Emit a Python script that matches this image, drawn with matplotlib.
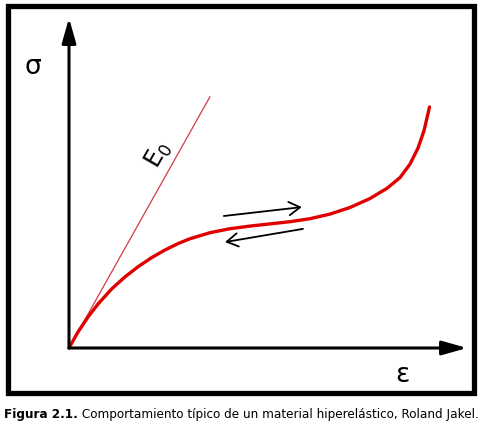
import matplotlib
matplotlib.use("Agg")
from matplotlib import pyplot as plt
from matplotlib.patches import Rectangle

# strain / stress values (arbitrary units, axes span 0..1)
curve_strain = [0.0, 0.0226, 0.0477, 0.0729, 0.1080, 0.1407, 0.1734, 0.2085, 0.2412,
                0.2739, 0.3040, 0.3543, 0.4045, 0.4548, 0.5050, 0.5553, 0.6055, 0.6558,
                0.7060, 0.7563, 0.7990, 0.8317, 0.8568, 0.8769, 0.8920, 0.9020, 0.9058]
curve_stress = [0.0, 0.0485, 0.0939, 0.1333, 0.1800, 0.2155, 0.2461, 0.2745, 0.2970,
                0.3164, 0.3312, 0.3494, 0.3615, 0.3694, 0.3761, 0.3827, 0.3918, 0.4058,
                0.4258, 0.4530, 0.4839, 0.5164, 0.5573, 0.6058, 0.6585, 0.7106, 0.7303]

e0_strain = [0.0, 0.354]
e0_stress = [0.0, 0.761]

load_arrow = [(0.389, 0.400), (0.585, 0.427)]
unload_arrow = [(0.588, 0.361), (0.392, 0.321)]

sigma_label = "σ"
eps_label = "ε"
e0_label = r"$\mathregular{E_0}$"
caption_bold = "Figura 2.1."
caption_rest = " Comportamiento típico de un material hiperelástico, Roland Jakel."

W, H = 482, 426
fig = plt.figure(figsize=(W / 100, H / 100), dpi=100)
fig.patch.set_facecolor("white")

# axes origin at pixel (69, 348), x-arrow tip at 467, y-arrow tip at 18
ax = fig.add_axes([69 / W, (H - 348) / H, 398 / W, 330 / H])
ax.set_xlim(0, 1)
ax.set_ylim(0, 1)
ax.axis("off")

# frame around the figure
fig.patches.append(Rectangle((7.5 / W, (H - 392.5) / H), 466 / W, 387 / H,
                             transform=fig.transFigure, fill=False,
                             edgecolor="black", linewidth=3.8))

axis_style = "-|>,head_length=0.6,head_width=0.17"
ax.annotate("", xy=(0, 1), xytext=(0, 0), xycoords="data",
            arrowprops=dict(arrowstyle=axis_style, lw=2.2, color="black",
                            mutation_scale=25, shrinkA=0, shrinkB=0),
            annotation_clip=False)
ax.annotate("", xy=(1, 0), xytext=(0, 0), xycoords="data",
            arrowprops=dict(arrowstyle=axis_style, lw=2.2, color="black",
                            mutation_scale=25, shrinkA=0, shrinkB=0),
            annotation_clip=False)

ax.plot(e0_strain, e0_stress, color="#d23a44", lw=0.9, clip_on=False)
ax.plot(curve_strain, curve_stress, color="#e00000", lw=2.4,
        solid_joinstyle="round", solid_capstyle="round", clip_on=False)

for start, end in (load_arrow, unload_arrow):
    ax.annotate("", xy=end, xytext=start,
                arrowprops=dict(arrowstyle="->,head_length=0.5,head_width=0.3",
                                lw=1.3, color="black", mutation_scale=16,
                                shrinkA=0, shrinkB=0))

ax.text(-0.090, 0.852, sigma_label, fontsize=19, ha="center", va="center",
        clip_on=False)
ax.text(0.837, -0.082, eps_label, fontsize=19, ha="center", va="center",
        clip_on=False)
ax.text(0.224, 0.585, e0_label, fontsize=17, rotation=60, ha="center",
        va="center", rotation_mode="anchor")

t1 = fig.text(4 / W, (H - 418) / H, caption_bold, fontsize=8.65,
              fontweight="bold", family="DejaVu Sans", va="baseline")
ax.annotate(caption_rest, xy=(1, 0), xycoords=t1, va="bottom", ha="left",
            fontsize=8.65, family="DejaVu Sans", annotation_clip=False)

fig.savefig("out.png", dpi=100, facecolor="white")
